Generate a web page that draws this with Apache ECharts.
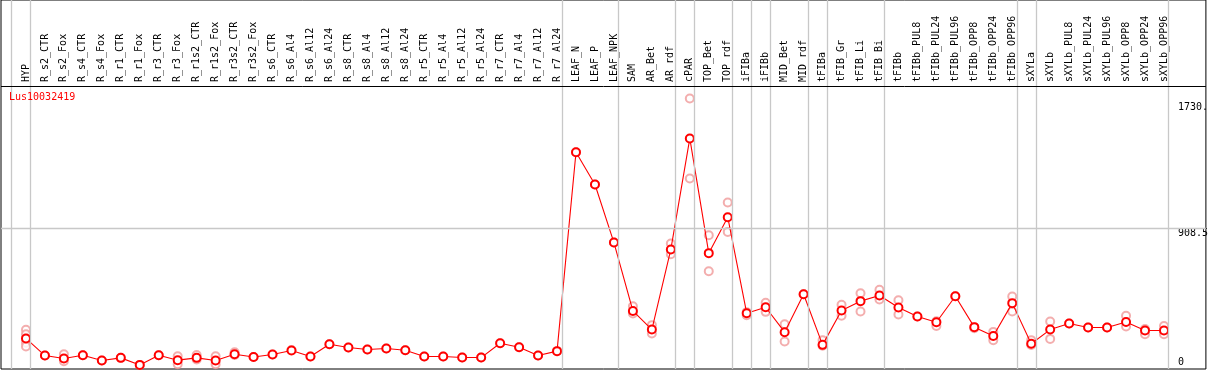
<!DOCTYPE html>
<html><head><meta charset="utf-8">
<script src="https://cdn.jsdelivr.net/npm/echarts@6/dist/echarts.min.js"></script>
<style>html,body{margin:0;padding:0;background:#fff}#c{width:1209px;height:370px}</style>
</head><body><div id="c"></div>
<script>
const title = 'Lus10032419';
const categories = ['HYP','R_s2_CTR','R_s2_Fox','R_s4_CTR','R_s4_Fox','R_r1_CTR','R_r1_Fox','R_r3_CTR','R_r3_Fox','R_r1s2_CTR','R_r1s2_Fox','R_r3s2_CTR','R_r3s2_Fox','R_s6_CTR','R_s6_Al4','R_s6_Al12','R_s6_Al24','R_s8_CTR','R_s8_Al4','R_s8_Al12','R_s8_Al24','R_r5_CTR','R_r5_Al4','R_r5_Al12','R_r5_Al24','R_r7_CTR','R_r7_Al4','R_r7_Al12','R_r7_Al24','LEAF_N','LEAF_P','LEAF_NPK','SAM','AR_Bet','AR_rdf','cPAR','TOP_Bet','TOP_rdf','iFIBa','iFIBb','MID_Bet','MID_rdf','tFIBa','tFIB_Gr','tFIB_Li','tFIB_Bi','tFIBb','tFIBb_PUL8','tFIBb_PUL24','tFIBb_PUL96','tFIBb_OPP8','tFIBb_OPP24','tFIBb_OPP96','sXYLa','sXYLb','sXYLb_PUL8','sXYLb_PUL24','sXYLb_PUL96','sXYLb_OPP8','sXYLb_OPP24','sXYLb_OPP96'];
const means = [188,76,57,78,44,61,15,78,46,61,44,85,67,83,109,70,150,129,116,122,111,70,70,63,63,157,131,76,105,1406,1195,815,368,246,770,1496,746,981,353,392,229,477,146,371,432,469,390,331,294,464,262,204,419,153,246,286,260,260,296,240,240];
const replicates = [[245,215,160,135],[76],[85,39],[78],[44],[61],[15],[78],[72,20],[80,50],[72,20],[98,80],[67],[83],[112],[70],[150],[129],[116],[122],[111],[70],[70],[63],[63],[157],[131],[76],[105],[1406],[1195],[815],[399,351],[275,220],[809,739],[1757,1234],[863,628],[1077,885],[340,360],[421,362],[281,168],[477],[177,140],[408,336],[484,364],[506,443],[438,345],[331],[270,300],[464],[262,255],[231,177],[462,364],[177,145],[299,185],[286],[260],[260],[336,266],[216,250],[270,216]];
const groupEnds = [-1,0,28,31,34,35,37,38,39,41,42,45,52,53,60];
const yTickValues = [0, 908.5, 1730];
const yTickLabels = ['0', '908.5', '1730.'];
const headerLineValue = 1839;

const FONT = 'DejaVu Sans Mono';
const repData = [];
replicates.forEach((arr, i) => arr.forEach(v => repData.push([i, v])));

const chart = echarts.init(document.getElementById('c'));
chart.setOption({
  animation: false,
  title: { text: title, left: 9, top: 92, padding: 0, textStyle: { color: '#ff0000', fontFamily: FONT, fontSize: 10, fontWeight: 'normal' } },
  grid: { left: 1, right: 1, top: 0, bottom: 1, show: true, borderColor: '#000', borderWidth: 1, containLabel: false },
  xAxis: {
    type: 'value', min: -1.316, max: 62.21, position: 'top', offset: -83,
    axisLine: { show: false }, axisTick: { show: false }, splitLine: { show: false },
    axisLabel: {
      customValues: categories.map((c, i) => i), rotate: 90, margin: 1,
      formatter: v => categories[Math.round(v)] || '',
      fontFamily: FONT, fontSize: 10, color: '#000', showMinLabel: true, showMaxLabel: true, hideOverlap: false
    }
  },
  yAxis: {
    type: 'value', min: -11.8, max: 2401.6, position: 'left', offset: -1175,
    axisLine: { show: false }, axisTick: { show: false }, splitLine: { show: false },
    axisLabel: {
      customValues: yTickValues, inside: true, margin: 2,
      formatter: v => { const i = yTickValues.indexOf(v); const t = yTickLabels[i]; return i === 0 ? '{b|' + t + '}' : '{t|' + t + '}'; },
      rich: {
        t: { fontFamily: FONT, fontSize: 10, color: '#000', padding: [10, 0, 0, 0] },
        b: { fontFamily: FONT, fontSize: 10, color: '#000', padding: [0, 0, 10, 0] }
      },
      verticalAlign: 'middle'
    }
  },
  series: [
    {
      type: 'scatter', data: repData, symbol: 'emptyCircle', symbolSize: 8, z: 2,
      itemStyle: { color: '#f09a9a', borderWidth: 1.3 },
      markLine: {
        silent: true, symbol: 'none', label: { show: false },
        lineStyle: { color: '#c8c8c8', type: 'solid', width: 1.3 },
        data: groupEnds.map(g => ({ xAxis: g + 0.25 })).concat([{ yAxis: yTickValues[1] }, { yAxis: headerLineValue, lineStyle: { color: '#000', width: 1 } }])
      }
    },
    {
      type: 'line', data: means.map((v, i) => [i, v]), symbol: 'emptyCircle', symbolSize: 8, z: 3,
      lineStyle: { color: '#ff0000', width: 1.1 },
      itemStyle: { color: '#ff0000', borderWidth: 1.4 }
    }
  ]
});
</script></body></html>
